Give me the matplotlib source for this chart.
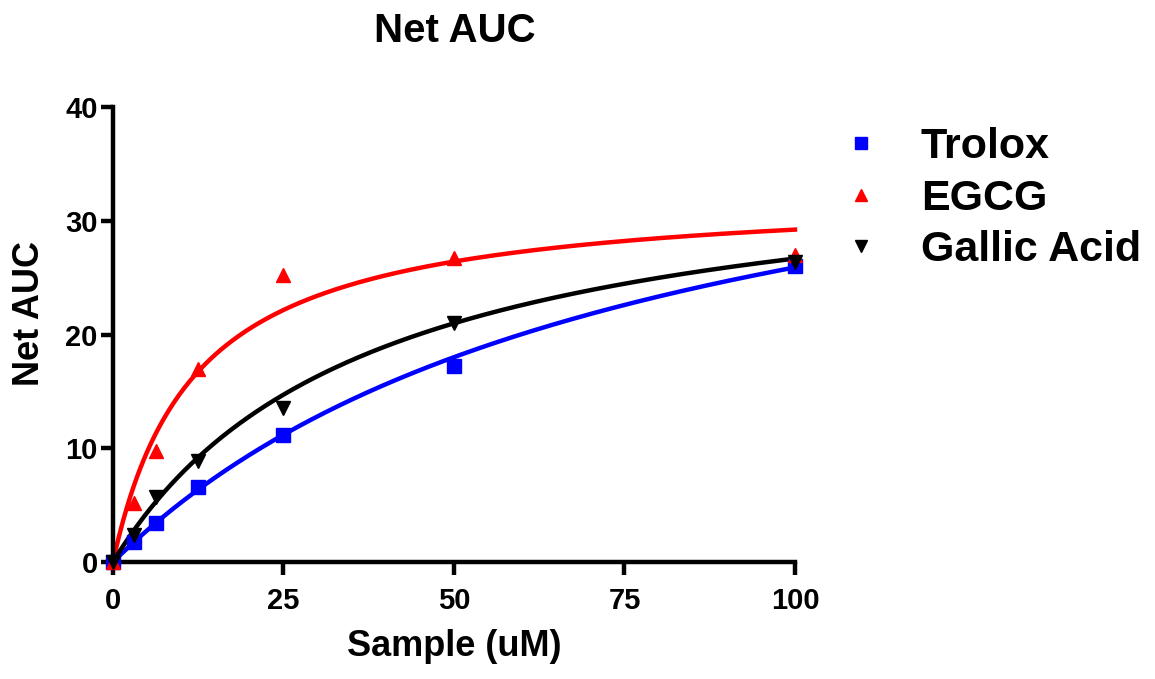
import numpy as np
import matplotlib.pyplot as plt
from matplotlib.lines import Line2D

plt.rcParams['font.family'] = ['Liberation Sans', 'DejaVu Sans']
plt.rcParams['font.weight'] = 'bold'

# concentrations (uM)
conc = [0, 3.125, 6.25, 12.5, 25, 50, 100]

trolox = [0, 1.8, 3.4, 6.6, 11.2, 17.2, 26.0]
egcg = [0, 5.2, 9.8, 17.0, 25.2, 26.7, 27.0]
gallic = [0, 2.4, 5.7, 8.9, 13.5, 21.0, 26.4]

# one-site fit parameters (Bmax, Kd)
names = ["Trolox", "EGCG", "Gallic Acid"]
bmax = [46.1, 32.7, 36.6]
kd = [78.0, 11.9, 37.2]

colors = ["#0000ff", "#ff0000", "#000000"]
markers = ["s", "^", "v"]

fig = plt.figure(figsize=(11.55, 6.79), dpi=100)
ax = fig.add_axes([0.0978, 0.1723, 0.5905, 0.6701])

xfit = np.linspace(0, 100, 400)
for ys, b, k, c, m in zip([trolox, egcg, gallic], bmax, kd, colors, markers):
    ax.plot(xfit, b * xfit / (k + xfit), color=c, linewidth=3.2, clip_on=False, zorder=2)
    ax.plot(conc, ys, linestyle="none", marker=m, color=c, markersize=10, clip_on=False, zorder=3)

ax.set_xlim(0, 100)
ax.set_ylim(0, 40)
ax.set_xticks([0, 25, 50, 75, 100])
ax.set_yticks([0, 10, 20, 30, 40])
for s in ["top", "right"]:
    ax.spines[s].set_visible(False)
for s in ["left", "bottom"]:
    ax.spines[s].set_linewidth(3.2)
ax.tick_params(direction="out", length=9, width=3.2, labelsize=21, pad=2)
ax.tick_params(axis="x", pad=9)
for lab in ax.get_xticklabels() + ax.get_yticklabels():
    lab.set_fontweight("bold")

ax.set_xlabel("Sample (uM)", fontsize=26, fontweight="bold", labelpad=10)
ax.set_ylabel("Net AUC", fontsize=26, fontweight="bold")
ax.yaxis.set_label_coords(-0.097, 0.547)
fig.text(0.394, 0.955, "Net AUC", fontsize=29, fontweight="bold", ha="center", va="center")

handles = [Line2D([], [], linestyle="none", marker=m, color=c, markersize=9)
           for m, c in zip(markers, colors)]
fig.legend(handles, names, loc="upper left", bbox_to_anchor=(0.693, 0.87),
           frameon=False, prop={"size": 31, "weight": "bold"},
           handletextpad=0.9, labelspacing=0.27, handlelength=1.0)

plt.savefig("out.png", dpi=100)
